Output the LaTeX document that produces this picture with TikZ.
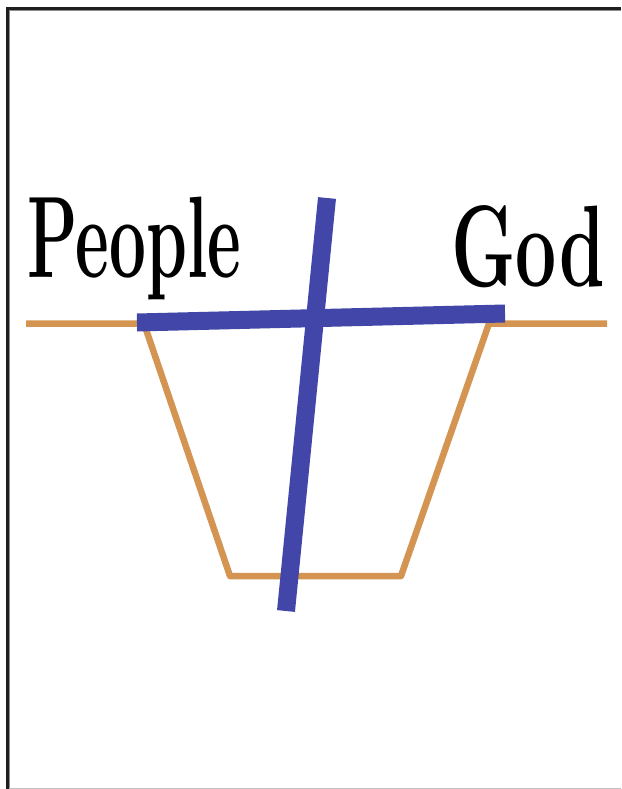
\documentclass[tikz,border=0pt]{standalone}
\usepackage{xcolor}
\usetikzlibrary{calc}
\definecolor{gulf}{RGB}{212,148,82}
\definecolor{crossblue}{RGB}{66,70,168}

\begin{document}
\begin{tikzpicture}[x=1pt,y=-1pt,
 ground/.style={line width=6.5pt,color=gulf,line join=round},
 beam/.style={line width=18pt,color=crossblue},
 word/.style={font=\fontsize{116}{116}\selectfont\bfseries,inner sep=0pt}]
 \useasboundingbox (0,0) rectangle (621,789);
 % frame
 \draw[line width=3.5pt,color=black!88] (7.5,789)--(7.5,8.5)--(621,8.5);
 \draw[line width=1pt,color=black!45] (9.7,789)--(9.7,10.7)--(621,10.7);
 \draw[line width=1.2pt,color=black!25] (9,788.2)--(621,788.2);
 % ground and gulf
 \coordinate (lt) at (144,323.5);
 \coordinate (rt) at (489,323.5);
 \draw[ground] (26,323.5)--(lt)--(230,576)--(401,576)--(rt)--(607,323.5);
 % the cross
 \draw[beam] (137,322.5)--(505,313.5);
 \draw[beam] (327,198)--(286,611);
 % words
 \node[word,anchor=base west,xscale=0.565] (people) at (27,277) {People};
 \node[word,anchor=base east,xscale=0.63] (god) at (605,286) {God};
\end{tikzpicture}
\end{document}
